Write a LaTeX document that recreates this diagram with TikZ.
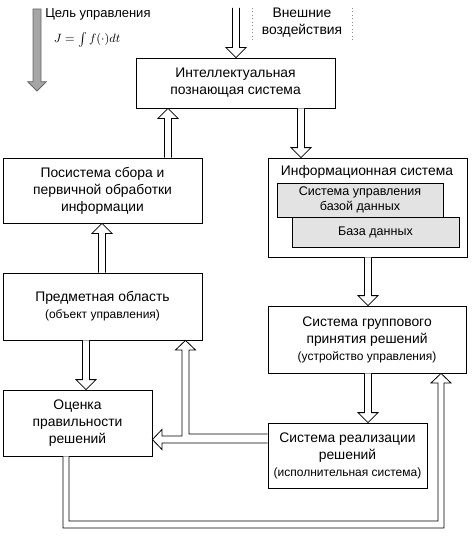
\documentclass[tikz,border=0pt]{standalone}
\usepackage{fontspec}
\setmainfont{Liberation Sans}
\usetikzlibrary{calc}
\newcommand\mainsz{\fontsize{10.4}{12.75}\selectfont}
\newcommand\smallsz{\fontsize{9}{12.75}\selectfont}
\newcommand\innersz{\fontsize{9.4}{11.25}\selectfont}
% vertical block arrow: #2 start, #3 tip, #4 = 1 (points down) or -1 (points up)
\newcommand\blockv[4][blockarrow]{\draw[#1] let \p1=#2, \p2=#3 in
  ({\x2-2.6pt},{\y1}) -- ({\x2-2.6pt},{\y2+(#4)*7.5pt}) -- ({\x2-7.5pt},{\y2+(#4)*7.5pt}) -- (\x2,\y2)
  -- ({\x2+7.5pt},{\y2+(#4)*7.5pt}) -- ({\x2+2.6pt},{\y2+(#4)*7.5pt}) -- ({\x2+2.6pt},{\y1});}
\begin{document}
\begin{tikzpicture}[x=0.75pt,y=-0.75pt,
  box/.style={draw=black, line width=0.6pt, fill=white, inner sep=0pt, align=center, font=\mainsz},
  gbox/.style={draw=black, line width=0.6pt, fill=black!11, inner sep=0pt, align=center, font=\innersz},
  size/.style 2 args={minimum width=#1*0.75pt, minimum height=#2*0.75pt},
  blockarrow/.style={draw=black, line width=0.6pt, fill=white, line join=miter},
  greyarrow/.style={draw=black!60, line width=0.6pt, fill=black!35},
  extline/.style={draw=black!45, dotted, line width=0.6pt}]
\useasboundingbox (0,0) rectangle (471,542);

% top texts
\node[font=\fontsize{9.75}{12}\selectfont, anchor=west, inner sep=0pt] (goal) at (45,14) {Цель управления};
\node[font=\fontsize{9}{11}\selectfont, inner sep=0pt] (formula) at (87,40) {$J=\int f(\cdot)dt$};
\node[font=\mainsz, align=center, inner sep=0pt] (ext) at (302,23) {Внешние\\воздействия};
\coordinate (extl1) at (252,8); \coordinate (extl2) at (252,42);
\coordinate (extr1) at (352,8); \coordinate (extr2) at (352,42);
\draw[extline] (extl1) -- (extl2);
\draw[extline] (extr1) -- (extr2);

% boxes
\node[box, size={199}{50}] (intel) at (235.5,83) {Интеллектуальная\\познающая система};
\node[box, size={199}{65}] (pos) at (102.5,190.5) {Посистема сбора и\\первичной обработки\\информации};
\node[box, size={199}{99}] (info) at (367.5,207.5) {};
\node[font=\mainsz, inner sep=0pt] (infot) at (367,172) {Информационная система};
\node[gbox, size={166}{34}] (dbms) at (360,200) {Система управления\\базой данных};
\node[gbox, size={167}{30}] (db) at (375.5,232) {База данных};
\node[box, size={199}{67}] (pr) at (102.5,306.5) {Предметная область\\{\smallsz(объект управления)}};
\node[box, size={198}{67}] (grp) at (367,339.5) {Система группового\\принятия решений\\{\smallsz(устройство управления)}};
\node[box, size={149}{66}] (oc) at (77.5,423) {Оценка\\правильности\\решений};
\node[box, size={159}{65}] (sr) at (347.5,455.5) {Система реализации\\решений\\{\smallsz(исполнительная система)}};

% grey goal arrow
\coordinate (g1) at (37,9); \coordinate (g2) at (37,91);
\draw[greyarrow] let \p1=(g1), \p2=(g2) in
  ({\x1-3pt},\y1) -- ({\x1-3pt},{\y2+7pt}) -- ({\x1-7pt},{\y2+7pt}) -- (\x2,\y2)
  -- ({\x1+7pt},{\y2+7pt}) -- ({\x1+3pt},{\y2+7pt}) -- ({\x1+3pt},\y1) -- cycle;

% block arrows
\coordinate (extin) at (236,8);
\blockv{(extin)}{(intel.north -| extin)}{1}
\blockv{(pos.north -| 168,0)}{(intel.south -| 168,0)}{-1}
\blockv{(intel.south -| 301,0)}{(info.north -| 301,0)}{1}
\blockv{(pr.north -| 102,0)}{(pos.south -| 102,0)}{-1}
\blockv{(info.south -| 368,0)}{(grp.north -| 368,0)}{1}
\blockv{(pr.south -| 86,0)}{(oc.north -| 86,0)}{1}
\blockv{(grp.south -| 368,0)}{(sr.north -| 368,0)}{1}

% feedback from realisation system to subject area and evaluation
\draw[blockarrow] (sr.west |- 0,434) -- (189,434) -- (189,350) -- (195.5,350)
  -- (pr.south -| 185.5,0) -- (175.5,350) -- (182,350) -- (182,436) -- (162,436)
  -- (162,429.5) -- (oc.east |- 0,439.5) -- (162,449.5) -- (162,443) -- (sr.west |- 0,443);

% loop from evaluation to group decision system
\draw[blockarrow] (oc.south -| 63,0) -- (63,528) -- (444,528) -- (444,383) -- (451,383)
  -- (grp.south -| 441,0) -- (431,383) -- (438,383) -- (438,521) -- (69,521) -- (oc.south -| 69,0);
\end{tikzpicture}
\end{document}
